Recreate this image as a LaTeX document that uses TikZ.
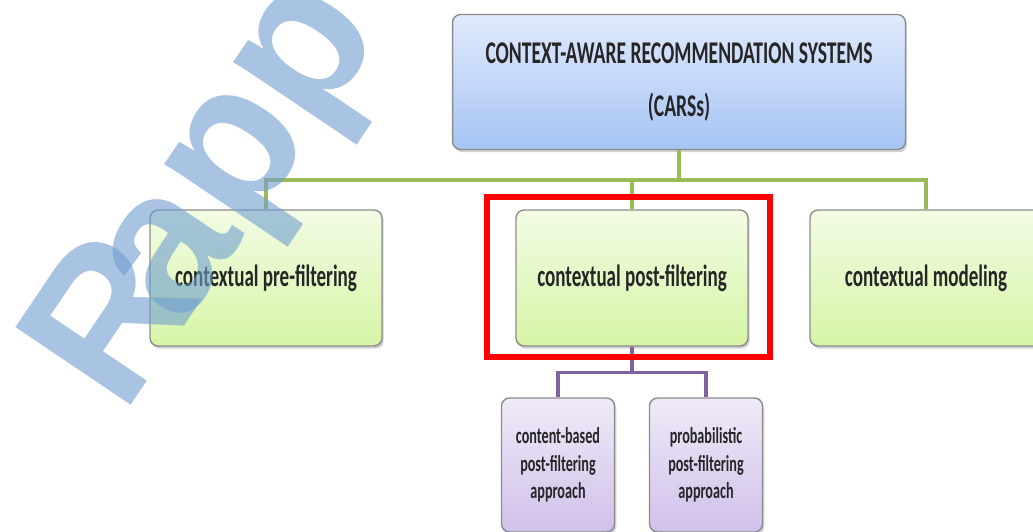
\documentclass[tikz,border=0pt]{standalone}
\usepackage{fontspec}
\usepackage{tikz}
\usetikzlibrary{shadows}
\newfontfamily\boxfont[FakeStretch=0.62]{Carlito}
\newfontfamily\markfont{Liberation Sans}
\definecolor{topcol}{RGB}{224,234,252}
\definecolor{botcol}{RGB}{166,196,244}
\definecolor{gtop}{RGB}{242,252,228}
\definecolor{gbot}{RGB}{214,245,166}
\definecolor{ptop}{RGB}{240,234,248}
\definecolor{pbot}{RGB}{208,192,234}
\definecolor{gline}{RGB}{155,187,89}
\definecolor{pline}{RGB}{128,100,162}
\definecolor{wmblue}{RGB}{112,158,208}

\begin{document}
\begin{tikzpicture}[x=0.02cm,y=-0.02cm,thick,
  main box/.style={draw=black!45,rounded corners=0.16cm,align=center,text=black!85,
    drop shadow={shadow xshift=1pt,shadow yshift=-1.5pt,opacity=0.35}},
  cars box/.style={main box,top color=topcol,bottom color=botcol,minimum width=9.06cm,minimum height=2.7cm,
    font=\boxfont\bfseries\fontsize{18}{33}\selectfont},
  filt box/.style={main box,top color=gtop,bottom color=gbot,minimum width=4.64cm,minimum height=2.72cm,
    font=\boxfont\bfseries\fontsize{17.5}{20}\selectfont},
  appr box/.style={main box,top color=ptop,bottom color=pbot,minimum width=2.26cm,minimum height=2.68cm,
    font=\boxfont\bfseries\fontsize{13}{15.6}\selectfont},
  green line/.style={draw=gline,line width=2pt},
  purple line/.style={draw=pline,line width=2pt}]

  \useasboundingbox (0,0) rectangle (1033,531);
  \fill[white] (0,0) rectangle (1033,531);

  \node[cars box] (cars) at (679,82) {\raisebox{-3pt}{CONTEXT-AWARE RECOMMENDATION SYSTEMS}\\(CARSs)};

  \node[filt box] (pre) at (266,278) {contextual pre-filtering};
  \node[filt box] (post) at (632,278) {contextual post-filtering};
  \node[filt box] (model) at (926,278) {contextual modeling};

  \node[appr box] (content) at (558,465) {content-based\\post-filtering\\approach};
  \node[appr box] (prob) at (706,465) {probabilistic\\post-filtering\\approach};

  % tree lines
  \path[green line] (cars.south) -- ++(0,30) -| (pre.north);
  \path[green line] (cars.south) -- ++(0,30) -| (post.north);
  \path[green line] (cars.south) -- ++(0,30) -| (model.north);
  \path[purple line] (post.south) -- ++(0,26) -| (content.north);
  \path[purple line] (post.south) -- ++(0,26) -| (prob.north);

  % highlight
  \draw[red,line width=3.4pt] (487,197) rectangle (770,357);

  % watermark
  \node[anchor=base west,inner sep=0,rotate=56,text=wmblue,text opacity=0.6,
    font=\markfont\bfseries\fontsize{115}{115}\selectfont] (mark) at (123,417) {R\kern-.2em{}app};
\end{tikzpicture}
\end{document}
